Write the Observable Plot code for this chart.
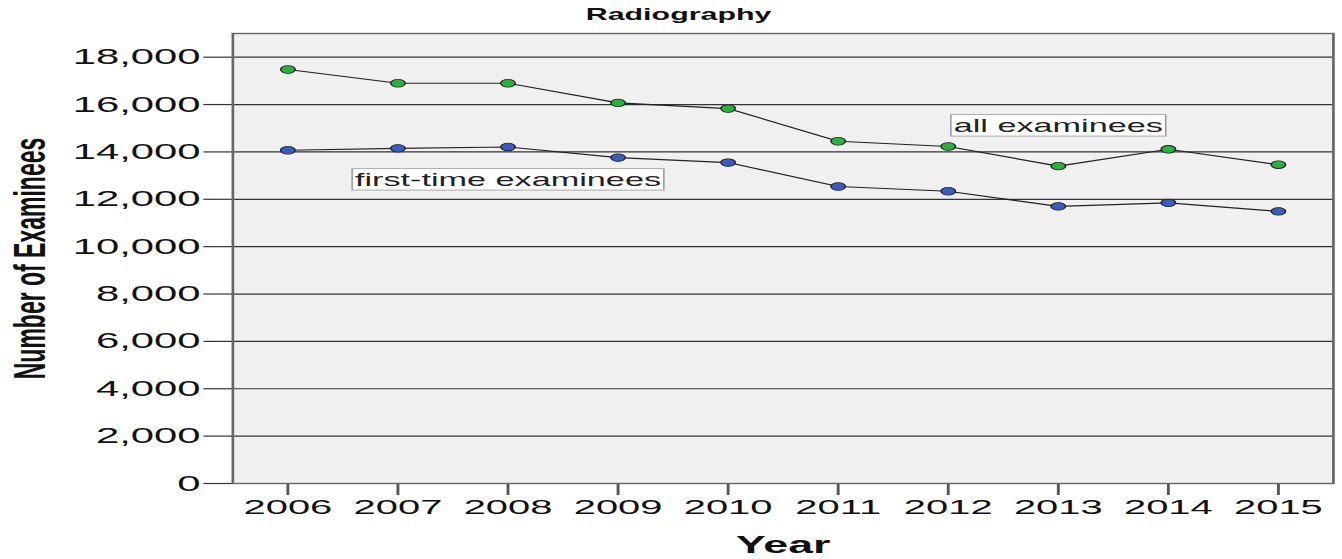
<!DOCTYPE html>
<html>
<head>
<meta charset="utf-8">
<script src="https://cdn.jsdelivr.net/npm/d3@7"></script>
<script src="https://cdn.jsdelivr.net/npm/@observablehq/plot@0.6"></script>
<style>
  html, body { margin: 0; padding: 0; background: #ffffff; }
  #chart { width: 1342px; height: 559px; overflow: hidden; }
</style>
</head>
<body>
<div id="chart"></div>
<script>
// ---- data ----
const years = [2006, 2007, 2008, 2009, 2010, 2011, 2012, 2013, 2014, 2015];
const allExaminees = [17480, 16900, 16900, 16070, 15830, 14450, 14230, 13400, 14110, 13460];
const firstTimeExaminees = [14070, 14150, 14210, 13760, 13550, 12540, 12340, 11700, 11850, 11490];
const seriesNames = ["all examinees", "first-time examinees"];
const seriesColors = ["#2bb140", "#3b5cbf"];
const labelYears = [2013, 2008];
const labelValues = [15100, 12820];
const yTicks = [0, 2000, 4000, 6000, 8000, 10000, 12000, 14000, 16000, 18000];
const chartTitle = "Radiography";
const xTitle = "Year";
const yTitle = "Number of Examinees";

// ---- tables built from the arrays ----
const rows = [];
years.forEach((yr, i) => {
  rows.push({year: yr, value: allExaminees[i], series: seriesNames[0]});
  rows.push({year: yr, value: firstTimeExaminees[i], series: seriesNames[1]});
});
const labels = seriesNames.map((s, i) => ({name: s, year: labelYears[i], value: labelValues[i]}));

// The reference is horizontally stretched; draw narrow then stretch.
const W = 706, H = 559;
const font = "'Liberation Sans', Arial, sans-serif";
const fmt = d3.format(",");

const chart = Plot.plot({
  width: W,
  height: H,
  marginLeft: 122,
  marginRight: 5,
  marginTop: 33,
  marginBottom: 76,
  style: {fontFamily: font, background: "#ffffff", color: "#111"},
  x: {domain: [2005.5, 2015.5]},
  y: {domain: [0, 19000]},
  color: {domain: seriesNames, range: seriesColors},
  marks: [
    Plot.frame({fill: "#f0f0f0", stroke: null}),
    Plot.gridY(yTicks, {stroke: "#333", strokeOpacity: 1, strokeWidth: 1.2}),
    Plot.axisY({ticks: yTicks, tickFormat: fmt, tickSize: 15, tickPadding: 2, fontSize: 22, label: null, stroke: "#333", strokeWidth: 1.2}),
    Plot.axisX({ticks: years, tickFormat: d => String(d), tickSize: 12, tickPadding: 4, fontSize: 21, label: null, stroke: "#555", strokeWidth: 1.5}),
    Plot.line(rows, {x: "year", y: "value", z: "series", stroke: "#222", strokeWidth: 1.1}),
    Plot.dot(rows, {x: "year", y: "value", fill: "series", stroke: "#222", strokeWidth: 0.8, r: 3.8}),
    Plot.text(labels, {x: "year", y: "value", text: "name", fontSize: 18, fill: "#222"}),
    Plot.frame({stroke: "#666", strokeWidth: 1.4, fill: null}),
    Plot.text([chartTitle], {frameAnchor: "top", dx: -55, dy: -25, fontSize: 16, fontWeight: "bold", fill: "#111"}),
    Plot.text([xTitle], {frameAnchor: "bottom", textAnchor: "middle", lineAnchor: "bottom", dy: 69, fontSize: 23.5, fontWeight: "bold", fill: "#111"}),
    Plot.text([yTitle], {frameAnchor: "left", textAnchor: "middle", lineAnchor: "middle", dx: -106, rotate: -90, fontSize: 23, fontWeight: "bold", fill: "#111"})
  ]
});

document.getElementById("chart").appendChild(chart);

// stretch horizontally like the reference
chart.setAttribute("viewBox", `0 0 ${W} ${H}`);
chart.setAttribute("width", 1342);
chart.setAttribute("height", H);
chart.setAttribute("preserveAspectRatio", "none");
chart.style.maxWidth = "none";
chart.style.width = "1342px";
chart.style.height = H + "px";

// white boxes behind the series labels
d3.select(chart).selectAll("text").each(function() {
  const t = this.textContent;
  if (seriesNames.includes(t)) {
    const b = this.getBBox();
    const g = this.parentNode;
    const rect = document.createElementNS("http://www.w3.org/2000/svg", "rect");
    rect.setAttribute("x", b.x - 1.5);
    rect.setAttribute("y", b.y - 0.5);
    rect.setAttribute("width", b.width + 3);
    rect.setAttribute("height", b.height + 1);
    rect.setAttribute("fill", "#ffffff");
    rect.setAttribute("stroke", "#999");
    rect.setAttribute("stroke-width", 0.8);
    const tr = this.getAttribute("transform");
    if (tr) rect.setAttribute("transform", tr);
    g.insertBefore(rect, this);
  }
});
</script>
</body>
</html>
